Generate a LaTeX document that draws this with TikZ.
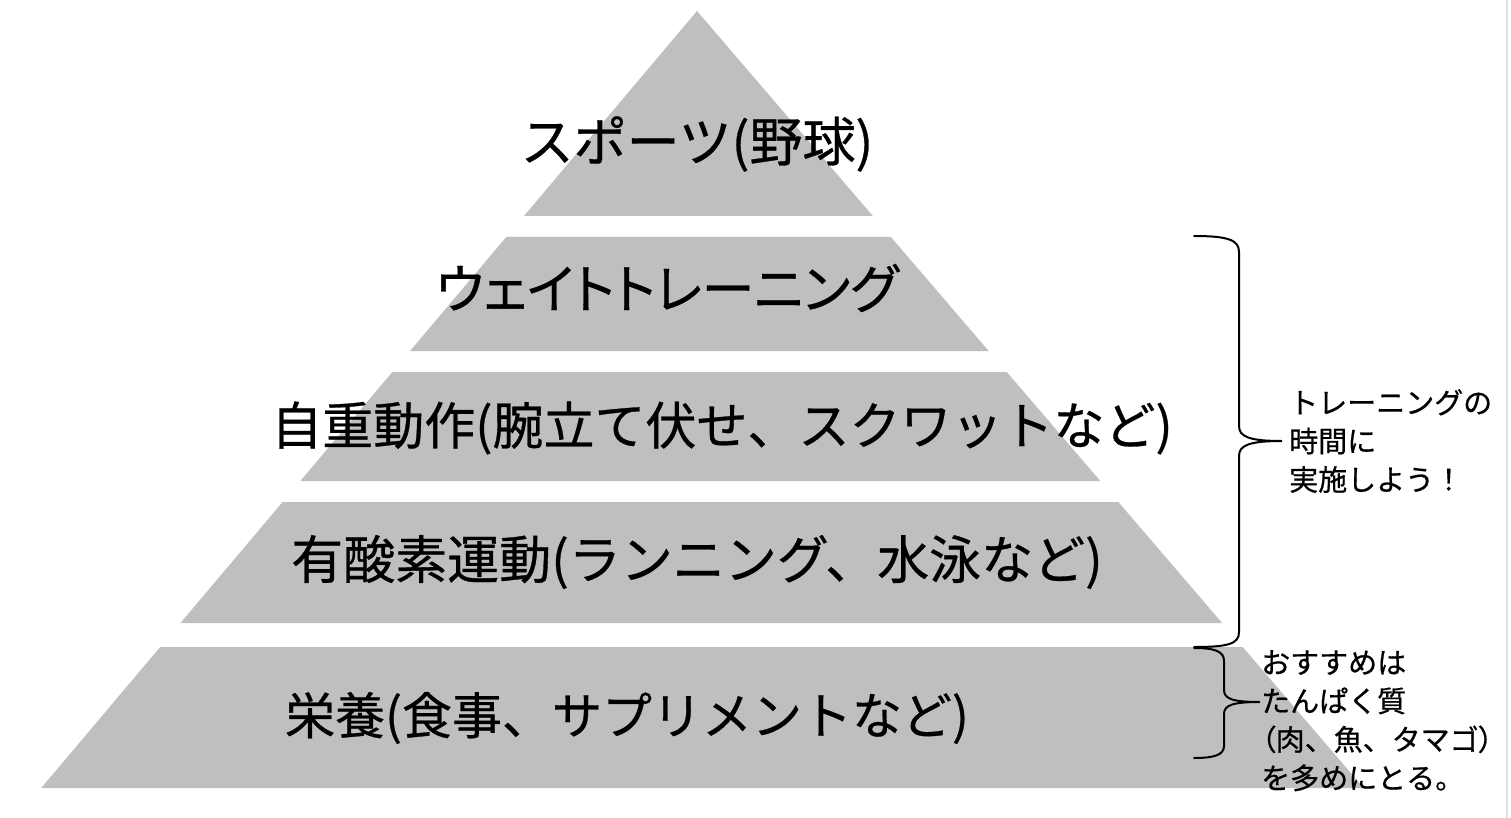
\documentclass[tikz,border=0pt]{standalone}
\usepackage{fontspec}
\usepackage{xcolor}
\usepackage{tikz}
\usetikzlibrary{positioning}
\newfontfamily\jpfont[FakeBold=0.6]{Noto Sans CJK JP}
\newfontfamily\jpfontp[FakeBold=0.6, RawFeature=+palt]{Noto Sans CJK JP}
\definecolor{layercolor}{RGB}{191,191,191}
\definecolor{edgecolor}{RGB}{226,226,226}
\tikzset{
    layer/.style={fill=layercolor, draw=none},
    layer label/.style={font=\jpfont\fontsize{50}{60}\selectfont, inner sep=0pt},
    note label/.style={font=\jpfont\fontsize{29}{38.5}\selectfont, align=left, inner sep=0pt},
    brace line/.style={draw=black, line width=2pt, line cap=round},
    edge line/.style={draw=edgecolor, line width=2.5pt}
}

\begin{document}
\begin{tikzpicture}[x=1pt, y=-1pt]
    \useasboundingbox (0,0) rectangle (1511,818);

    % Pyramid layers - all cut from one triangle, apex at (697,11)
    \foreach \ya/\yb in {11/216, 237/351, 372/481, 502/623, 647/788} {
        \fill[layer] ({697-0.844*(\ya-11)},\ya) -- ({697+0.858*(\ya-11)},\ya)
            -- ({697+0.858*(\yb-11)},\yb) -- ({697-0.844*(\yb-11)},\yb) -- cycle;
    }

    % Layer labels - sizes nudged to the reference widths
    \node[layer label, font=\jpfont\fontsize{53}{60}\selectfont] (L1) at (697,144) {スポーツ(野球)};
    \node[layer label, font=\jpfontp\fontsize{53}{60}\selectfont] (L2) at (667,288) {ウェイトトレーニング};
    \node[layer label, font=\jpfont\fontsize{51}{60}\selectfont] (L3) at (722,428) {自重動作(腕立て伏せ、スクワットなど)};
    \node[layer label, font=\jpfont\fontsize{52}{60}\selectfont] (L4) at (697,562) {有酸素運動(ランニング、水泳など)};
    \node[layer label] (L5) at (627,718) {栄養(食事、サプリメントなど)};

    % Brace over the training layers
    \coordinate (B1top) at (1194,236);
    \coordinate (B1tip) at (1282,441);
    \coordinate (B1bot) at (1194,647);
    \draw[brace line] (B1top) .. controls (1228,236) and (1239,240) .. (1239,252)
        -- (1239,426) .. controls (1239,437) and (1250,441) .. (B1tip)
        .. controls (1250,441) and (1239,445) .. (1239,456)
        -- (1239,632) .. controls (1239,644) and (1228,647) .. (B1bot);
    \node[note label, right=7pt of B1tip] (N1) {トレーニングの\\時間に\\実施しよう！};

    % Brace beside the nutrition layer
    \coordinate (B2top) at (1194,648);
    \coordinate (B2tip) at (1260,702);
    \coordinate (B2bot) at (1194,758);
    \draw[brace line] (B2top) .. controls (1214,648) and (1224,651) .. (1224,661)
        -- (1224,690) .. controls (1224,699) and (1233,702) .. (B2tip)
        .. controls (1233,702) and (1224,705) .. (1224,714)
        -- (1224,746) .. controls (1224,755) and (1214,758) .. (B2bot);
    \node[note label, anchor=north west] (N2) at (1261,650)
        {おすすめは\\たんぱく質\\{\jpfontp（}肉、魚、タマゴ{\jpfontp）}\\を多めにとる。};

    % Faint frame edge on the right
    \draw[edge line] (1507,0) -- (1507,818);
\end{tikzpicture}
\end{document}
